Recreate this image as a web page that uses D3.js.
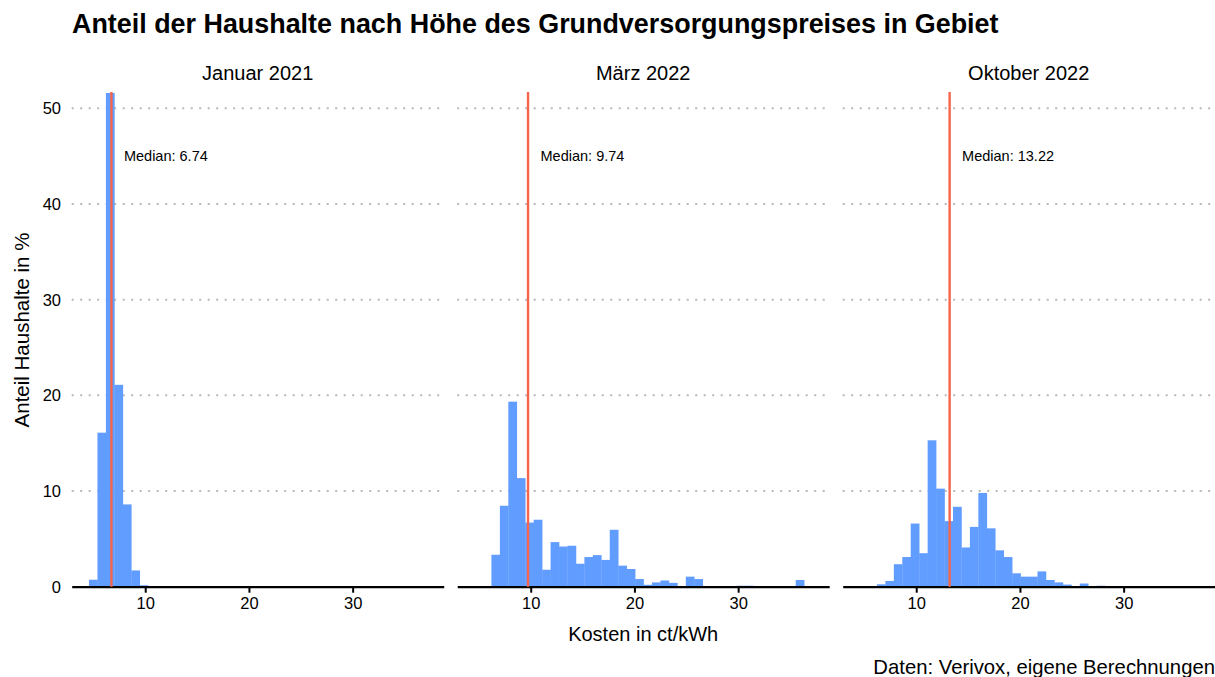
<html>
<head>
<meta charset="utf-8">
<title>Grundversorgungspreise</title>
<script src="https://d3js.org/d3.v7.min.js"></script>
<style>
    body { margin: 0; background: #fff; }
    text { font-family: "Liberation Sans", Arial, sans-serif; fill: #000; }
</style>
</head>
<body>
<div id="chart"></div>
<script>

    // histogram bins (ct/kWh), shared by all panels
    var binStart = 4.58;
    var binWidth = 0.815;

    var panelNames = ["Januar 2021", "März 2022", "Oktober 2022"];
    var medians = [6.74, 9.74, 13.22];

    // share of households in % per bin, starting at binStart
    var jan2021 = [0.73, 16.1, 51.6, 21.1, 8.6, 1.7, 0.15];
    var mar2022 = [0, 0, 3.34, 8.46, 19.34, 11.35, 6.7, 7.0, 1.77, 4.66, 4.2, 4.28, 2.4, 3.1, 3.3, 2.8,
        5.95, 2.2, 1.85, 0.8, 0.2, 0.45, 0.65, 0.4, 0, 1.05, 0.8, 0, 0, 0, 0, 0.1, 0.1, 0, 0, 0, 0, 0, 0.7];
    var okt2022 = [0, 0, 0.25, 0.6, 2.35, 3.1, 6.6, 3.5, 15.3, 10.25, 6.85, 8.35, 4.1, 6.25, 9.8, 6.1,
        3.8, 3.1, 1.4, 1.05, 1.05, 1.6, 0.7, 0.45, 0.22, 0, 0.33, 0, 0.1];
    var series = [jan2021, mar2022, okt2022];

    var xTicks = [10, 20, 30];
    var yTicks = [0, 10, 20, 30, 40, 50];

    var W = 1215, H = 677;
    var panelLeft = 71.7, panelWidth = 372, panelGap = 13.5;
    var plotTop = 93, plotBottom = 586.7;

    var svg = d3.select("#chart")
        .append("svg")
        .attr("width", W)
        .attr("height", H);

    var x = d3.scaleLinear()
        .domain([2.91, 38.78])
        .range([0, panelWidth]);

    var y = d3.scaleLinear()
        .domain([0, 51.6])
        .range([plotBottom, plotTop]);

    // title
    svg.append("text")
        .attr("x", 72)
        .attr("y", 33)
        .style("font-size", "26.9px")
        .style("font-weight", "bold")
        .text("Anteil der Haushalte nach Höhe des Grundversorgungspreises in Gebiet");

    // y tick labels
    svg.append("g")
        .selectAll("text")
        .data(yTicks)
        .enter()
        .append("text")
        .attr("x", 61)
        .attr("y", function (d) { return y(d); })
        .attr("dy", "0.36em")
        .attr("text-anchor", "end")
        .style("font-size", "16.5px")
        .text(function (d) { return d; });

    // y title
    svg.append("text")
        .attr("transform", "translate(29,330) rotate(-90)")
        .attr("text-anchor", "middle")
        .style("font-size", "20.5px")
        .text("Anteil Haushalte in %");

    series.forEach(function (values, p) {
        var g = svg.append("g")
            .attr("transform", "translate(" + (panelLeft + p * (panelWidth + panelGap)) + ",0)");

        // dotted horizontal grid
        g.append("g")
            .selectAll("line")
            .data(yTicks.slice(1))
            .enter()
            .append("line")
            .attr("x1", 0)
            .attr("x2", panelWidth)
            .attr("y1", function (d) { return y(d); })
            .attr("y2", function (d) { return y(d); })
            .attr("stroke", "#b8b8b8")
            .attr("stroke-width", 2)
            .attr("stroke-dasharray", "2, 6.5");

        var bins = values.map(function (v, i) {
            return { x0: binStart + i * binWidth, x1: binStart + (i + 1) * binWidth, v: v };
        }).filter(function (d) { return d.v > 0; });

        g.append("g")
            .selectAll("rect")
            .data(bins)
            .enter()
            .append("rect")
            .attr("x", function (d) { return x(d.x0); })
            .attr("width", function (d) { return x(d.x1) - x(d.x0) + 0.3; })
            .attr("y", function (d) { return y(d.v); })
            .attr("height", function (d) { return y(0) - y(d.v); })
            .style("fill", "#619cff");

        // x axis
        var axis = g.append("g")
            .attr("transform", "translate(0," + plotBottom + ")")
            .call(d3.axisBottom(x).tickValues(xTicks).tickSize(6).tickSizeOuter(0));
        axis.select(".domain")
            .attr("stroke", "#000")
            .attr("stroke-width", 2.2);
        axis.selectAll(".tick line")
            .attr("stroke", "#000")
            .attr("stroke-width", 2);
        axis.selectAll(".tick text")
            .attr("y", 11)
            .style("font-size", "16.5px")
            .style("font-family", "'Liberation Sans', Arial, sans-serif")
            .attr("fill", "#000");

        // median line
        g.append("line")
            .attr("x1", x(medians[p]))
            .attr("x2", x(medians[p]))
            .attr("y1", plotTop - 1)
            .attr("y2", plotBottom)
            .attr("stroke", "#f6654c")
            .attr("stroke-width", 2.4);

        g.append("text")
            .attr("x", x(medians[p]) + 12.5)
            .attr("y", y(45))
            .attr("dy", "0.36em")
            .style("font-size", "14.5px")
            .text("Median: " + d3.format(".2f")(medians[p]));

        // strip label
        g.append("text")
            .attr("x", panelWidth / 2)
            .attr("y", 80)
            .attr("text-anchor", "middle")
            .style("font-size", "20px")
            .text(panelNames[p]);
    });

    // x title
    svg.append("text")
        .attr("x", panelLeft + 1.5 * panelWidth + panelGap)
        .attr("y", 641)
        .attr("text-anchor", "middle")
        .style("font-size", "20px")
        .text("Kosten in ct/kWh");

    // caption
    svg.append("text")
        .attr("x", 1215)
        .attr("y", 674)
        .attr("text-anchor", "end")
        .style("font-size", "20.3px")
        .text("Daten: Verivox, eigene Berechnungen");

</script>
</body>
</html>
